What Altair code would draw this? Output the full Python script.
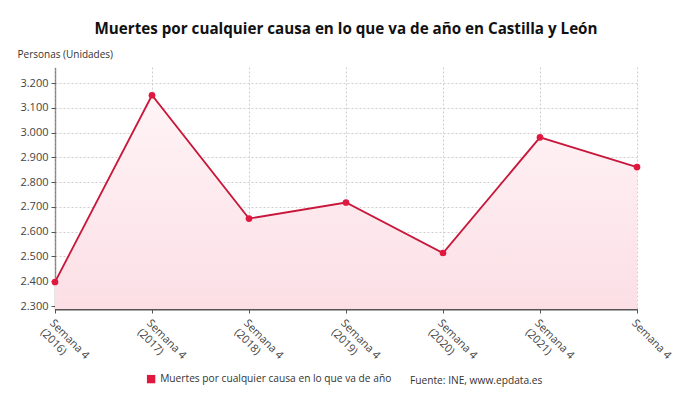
import altair as alt
import pandas as pd

periodos = ["Semana 4|(2016)", "Semana 4|(2017)", "Semana 4|(2018)", "Semana 4|(2019)",
            "Semana 4|(2020)", "Semana 4|(2021)", "Semana 4"]
muertes = [2397, 3151, 2653, 2718, 2514, 2981, 2861]
serie = "Muertes por cualquier causa en lo que va de año"
fuente = "Fuente: INE, www.epdata.es"
y_ticks = [2300, 2400, 2500, 2600, 2700, 2800, 2900, 3000, 3100, 3200]

df = pd.DataFrame({"periodo": periodos, "muertes": muertes, "serie": [serie] * len(periodos)})

FONT = "Open Sans"
RED_LINE = "#c8173a"
RED_PT = "#e0173f"

x = alt.X("periodo:N", sort=periodos, title=None,
          scale=alt.Scale(type="point", padding=0),
          axis=alt.Axis(labelExpr="split(datum.label, '|')", labelAngle=45, labelAlign="left",
                        labelBaseline="top", labelFontSize=11, labelColor="#444", labelFont=FONT,
                        labelPadding=4, labelLineHeight=13,
                        grid=True, gridDash=[2, 2], gridColor="#cfcfcf",
                        domainColor="#555", domainWidth=2, tickColor="#555", tickSize=4))

y = alt.Y("muertes:Q", title="Personas (Unidades)",
          scale=alt.Scale(domain=[2288, 3265], nice=False, zero=False),
          axis=alt.Axis(values=y_ticks,
                        labelExpr="replace(format(datum.value, ','), ',', '.')",
                        labelFontSize=11, labelColor="#444", labelFont=FONT, labelPadding=3,
                        grid=True, gridDash=[2, 2], gridColor="#cfcfcf",
                        domainColor="#333", domainDash=[1, 1], domainWidth=1.5,
                        tickColor="#555", tickSize=4,
                        titleAngle=0, titleX=-38, titleY=-13, titleAlign="left",
                        titleBaseline="middle", titleFontSize=10, titleFont=FONT,
                        titleFontWeight=500, titleColor="#333"))

base = alt.Chart(df)

area = base.mark_area(
    color=alt.Gradient(gradient="linear", x1=1, x2=1, y1=0, y2=1,
                       stops=[alt.GradientStop(color="#fff4f6", offset=0),
                              alt.GradientStop(color="#fbdfe5", offset=1)])
).encode(x=x, y=y, y2=alt.datum(2288))

line = base.mark_line(color=RED_LINE, strokeWidth=1.8).encode(x=x, y=y)

points = base.mark_point(filled=True, size=45, opacity=1).encode(
    x=x, y=y,
    color=alt.Color("serie:N", scale=alt.Scale(domain=[serie], range=[RED_PT]),
                    legend=alt.Legend(title=None, orient="none", legendX=91, legendY=307,
                                      symbolType="square", symbolSize=70, labelFontSize=10.2,
                                      labelFont=FONT, labelColor="#333", labelLimit=0,
                                      symbolStrokeWidth=0))
)

src = alt.Chart(pd.DataFrame({"t": [fuente]})).mark_text(
    align="left", baseline="middle", fontSize=10.2, font=FONT, color="#333"
).encode(text="t:N", x=alt.value(355), y=alt.value(314))

chart = alt.layer(area, line, points, src).properties(
    width=582, height=242,
    autosize=alt.AutoSizeParams(type="none"),
    padding={"left": 47, "top": 59, "right": 45, "bottom": 89},
    title=alt.TitleParams("Muertes por cualquier causa en lo que va de año en Castilla y León",
                          fontSize=15.2, font=FONT, fontWeight="bold", color="#111",
                          anchor="middle", frame="group", offset=12)
).configure_view(stroke=None)

chart.save("out.html", embed_options={"renderer": "svg", "actions": False})
